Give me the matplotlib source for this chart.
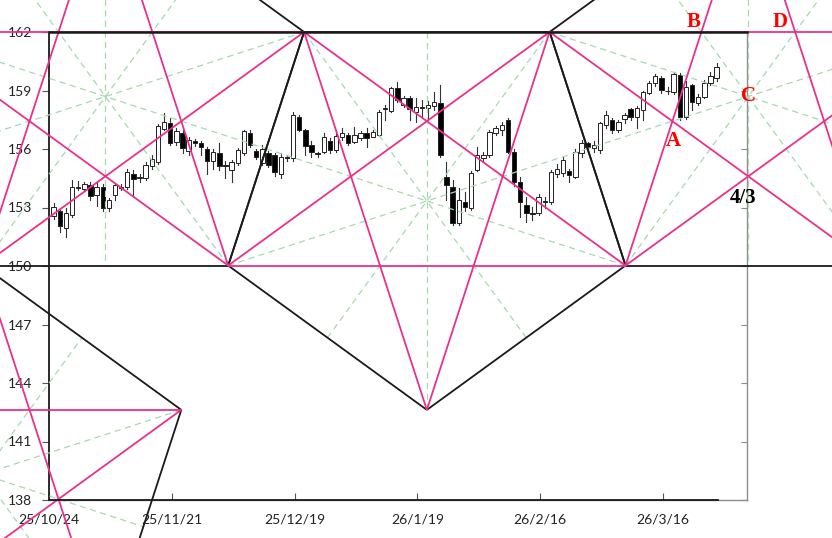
import numpy as np
import matplotlib
matplotlib.use("Agg")
import matplotlib.pyplot as plt

# ── Candles (bar index = trading day, 0 = 25/10/24) ──────────────────────────
opens = [152.55,152.8,151.95,152.6,154.0,153.95,154.15,153.65,154.05,152.95,
         153.65,154.05,154.05,154.7,154.5,154.5,155.15,155.35,157.05,157.35,
         156.35,156.8,155.9,156.4,156.3,156.0,155.4,155.8,155.2,154.9,
         155.3,155.8,156.8,155.9,155.3,155.8,155.7,154.7,155.6,155.55,
         157.66,156.97,156.2,155.8,155.86,156.43,155.95,156.6,156.72,156.38,
         156.55,156.8,156.6,156.72,158.05,157.96,159.11,158.26,158.6,157.91,
         158.1,158.09,158.2,158.34,154.58,154.07,152.19,153.3,152.96,154.92,
         155.52,155.69,156.8,156.97,157.49,155.86,154.33,153.13,152.72,152.7,
         153.35,153.3,154.72,154.75,154.89,154.58,155.78,156.29,156.05,155.95,
         157.23,157.49,156.97,157.52,158.03,157.66,158.0,158.89,159.37,159.62,
         158.99,158.94,159.8,157.66,159.28,158.34,158.68,159.37,159.62]
highs = [153.25,153.0,152.95,154.4,154.35,154.3,154.3,154.3,154.2,153.5,
         154.25,154.2,155.0,154.9,154.7,155.35,155.7,157.3,157.85,157.6,
         157.1,157.0,156.6,156.5,156.4,156.1,156.0,156.3,155.4,155.45,
         156.05,157.0,157.0,156.0,156.2,155.9,155.8,155.8,155.7,157.9,
         157.75,157.05,156.4,155.86,156.8,156.55,156.8,157.06,156.8,157.11,
         156.9,157.1,156.95,158.0,158.25,159.2,159.45,158.7,158.7,158.6,
         158.5,158.45,158.94,159.28,155.35,154.4,153.98,153.8,154.85,156.12,
         155.86,156.97,157.2,157.4,157.57,156.0,154.58,153.56,153.04,153.7,
         153.56,154.9,155.25,155.6,155.0,156.0,156.45,156.38,156.4,157.4,
         157.95,157.6,157.5,157.85,158.1,158.2,159.0,159.5,159.85,159.75,
         159.2,159.97,159.9,159.5,159.35,158.8,159.55,159.95,160.39]
lows = [152.4,151.75,151.5,152.5,153.9,153.85,153.4,153.1,152.8,152.8,
        153.4,153.9,153.95,153.65,154.3,154.4,155.0,155.25,156.95,156.2,
        156.2,155.8,155.7,156.15,155.7,154.7,155.0,154.9,154.5,154.3,
        155.2,155.7,156.1,155.5,155.2,155.1,154.6,154.5,155.4,155.4,
        156.9,155.7,155.6,155.6,155.8,155.8,155.85,156.45,156.2,156.3,
        156.45,156.1,156.6,156.65,157.5,157.9,158.4,158.15,157.5,157.4,
        157.65,157.5,158.0,155.6,153.4,152.1,152.1,152.8,152.87,154.85,
        155.35,155.6,156.7,156.7,155.8,154.1,152.53,152.27,152.36,152.6,
        152.95,153.2,154.58,154.6,154.33,154.5,155.6,155.95,155.85,155.8,
        157.1,156.8,156.85,157.35,157.5,157.1,157.5,158.8,159.25,158.85,
        158.8,158.8,157.49,157.55,158.0,158.26,158.6,159.3,159.5]
closes = [153.0,152.05,152.7,154.05,154.05,154.2,153.6,154.05,153.0,153.4,
          154.15,154.0,154.8,154.45,154.5,155.2,155.5,157.2,157.4,156.3,
          156.9,156.05,156.45,156.3,156.1,155.4,155.85,155.15,155.15,155.35,
          155.95,156.9,156.2,155.6,156.0,155.2,154.8,155.6,155.55,157.75,
          156.97,156.15,155.86,155.75,156.6,155.95,156.66,156.84,156.33,156.72,
          156.8,156.55,156.85,157.9,158.1,159.11,158.51,158.6,158.03,158.14,
          158.08,158.26,158.43,155.69,154.15,152.19,153.38,153.04,154.75,155.69,
          155.69,156.89,157.06,157.23,155.86,154.33,153.3,152.7,152.68,153.56,
          153.28,154.84,155.0,155.44,154.67,155.86,156.29,156.12,156.2,157.32,
          157.74,156.97,157.4,157.74,157.66,158.09,158.94,159.37,159.74,159.03,
          158.95,159.85,157.66,159.2,158.43,158.68,159.37,159.74,160.22]

tick_pos    = [-0.75, 19.25, 39.25, 59.25, 79.25, 99.25]
tick_labels = ["25/10/24", "25/11/21", "25/12/19", "26/1/19", "26/2/16", "26/3/16"]
y_ticks     = [138, 141, 144, 147, 150, 153, 156, 159, 162]

# top edge of the main pentagon (bar index, price)
pent_top_left  = (40.8, 162.0)
pent_top_right = (80.8, 162.0)

PINK, GREEN, BLACK = "#e8318c", "#a6d9ae", "#1a1a1a"

plt.rcParams["font.family"] = ["Lato", "DejaVu Sans"]
fig = plt.figure(figsize=(8.32, 5.38), dpi=100)
ax = fig.add_axes([49/832, 38/538, 698/832, 468/538])
ax.set_xlim(-0.75, 112.95)
ax.set_ylim(138, 162)

# ── candles ──────────────────────────────────────────────────────────────────
w = 0.72
for i, (o, h, l, c) in enumerate(zip(opens, highs, lows, closes)):
    ax.plot([i, i], [l, h], color="#333333", lw=0.8, zorder=2)
    up = c >= o
    lo, hi = min(o, c), max(o, c)
    ax.add_patch(plt.Rectangle((i - w/2, lo), w, max(hi - lo, 0.05),
                               facecolor="white" if up else "black",
                               edgecolor="#222222", lw=0.7, zorder=3))

# ── pentagon geometry in display space ───────────────────────────────────────
fig.canvas.draw()
T = ax.transData
inv = T.inverted()
p2 = T.transform(pent_top_left)
p4 = T.transform(pent_top_right)
side = np.linalg.norm(p4 - p2)
R = side / (2*np.sin(np.pi/5))
r = R*np.cos(np.pi/5)


def pentagon(center, up):
    start = 90 if up else 270
    ang = np.deg2rad(start + 72*np.arange(5))
    return center + R*np.column_stack([np.cos(ang), np.sin(ang)])


def reflect(pt, a, b):
    d = (b - a) / np.linalg.norm(b - a)
    proj = a + d*np.dot(pt - a, d)
    return 2*proj - pt


c_main = (p2 + p4)/2 - np.array([0, r])
main = pentagon(c_main, up=False)           # P3, P5, P4, P2, P1
P3, P5, P4, P2, P1 = main
c_left = reflect(c_main, P1, P2)
left = pentagon(c_left, up=True)            # A1, L, Q, P1, P2
c_right = reflect(c_main, P4, P5)
right = pentagon(c_right, up=True)          # A2, P4, P5, R1, R2
Q = left[2]
c_low = Q - np.array([0, R])
low = pentagon(c_low, up=True)
pents = [main, left, right, low]


def seg(a, b, **kw):
    pts = inv.transform(np.vstack([a, b]))
    ax.plot(pts[:, 0], pts[:, 1], clip_on=False, solid_capstyle="butt", **kw)


for pg in pents:
    for k in range(5):
        mid = (pg[(k+2) % 5] + pg[(k+3) % 5])/2
        seg(pg[k], mid, color=GREEN, lw=0.9, ls=(0, (5, 3.5)), zorder=4)
for pg in pents:
    for k in range(5):
        seg(pg[k], pg[(k+1) % 5], color=BLACK, lw=1.3, zorder=5)
for pg in pents:
    for k in range(5):
        seg(pg[k], pg[(k+2) % 5], color=PINK, lw=1.3, zorder=6)


def intersect(a1, a2, b1, b2):
    da, db = a2 - a1, b2 - b1
    t = np.cross(b1 - a1, db) / np.cross(da, db)
    return a1 + t*da


A2, _, _, R1, R2 = right
pt_A = intersect(A2, P5, P4, R1)
pt_B = intersect(A2, P5, P2, P4)
pt_D = intersect(A2, R1, P2, P4)
pt_43 = intersect(P4, R1, P5, R2)
for name, pt, off, col in [("A", pt_A, (1, -20), "red"), ("B", pt_B, (-8, 10), "red"),
                           ("C", c_right, (0, 1), "red"), ("D", pt_D, (-15, 10), "red"),
                           ("4/3", pt_43, (-5, -22), "black")]:
    ax.annotate(name, xy=inv.transform(pt), xytext=off, textcoords="offset pixels",
                ha="center", va="center", color=col, fontsize=15, fontweight="bold",
                family="Liberation Serif", zorder=8, annotation_clip=False)

# ── frame & axes ─────────────────────────────────────────────────────────────
for s in ["right", "bottom"]:
    ax.spines[s].set_color("#8c8c8c")
    ax.spines[s].set_linewidth(1.0)
ax.spines["left"].set_color(BLACK)
ax.spines["left"].set_linewidth(1.3)
ax.spines["top"].set_color(BLACK)
ax.spines["top"].set_linewidth(1.8)
ax.spines["top"].set_zorder(7)
ax.plot([-0.75, len(closes) - 0.8], [138, 138], color=BLACK, lw=1.3, clip_on=False, zorder=7)

ax.set_yticks(y_ticks)
ax.set_yticklabels([str(v) for v in y_ticks])
ax.tick_params(axis="y", direction="out", length=5, width=0.8, color="#555555",
               labelsize=10, pad=7, labelcolor="#222222")
ax.set_xticks(tick_pos)
ax.set_xticklabels(tick_labels)
ax.tick_params(axis="x", direction="in", length=5, width=0.8, color="#555555",
               labelsize=10, pad=10, labelcolor="#222222")
sec = ax.secondary_yaxis("right")
sec.set_yticks(y_ticks)
sec.tick_params(direction="in", length=4, color="#8c8c8c", labelright=False)
sec.spines["right"].set_visible(False)

fig.savefig("out.png", dpi=100)
